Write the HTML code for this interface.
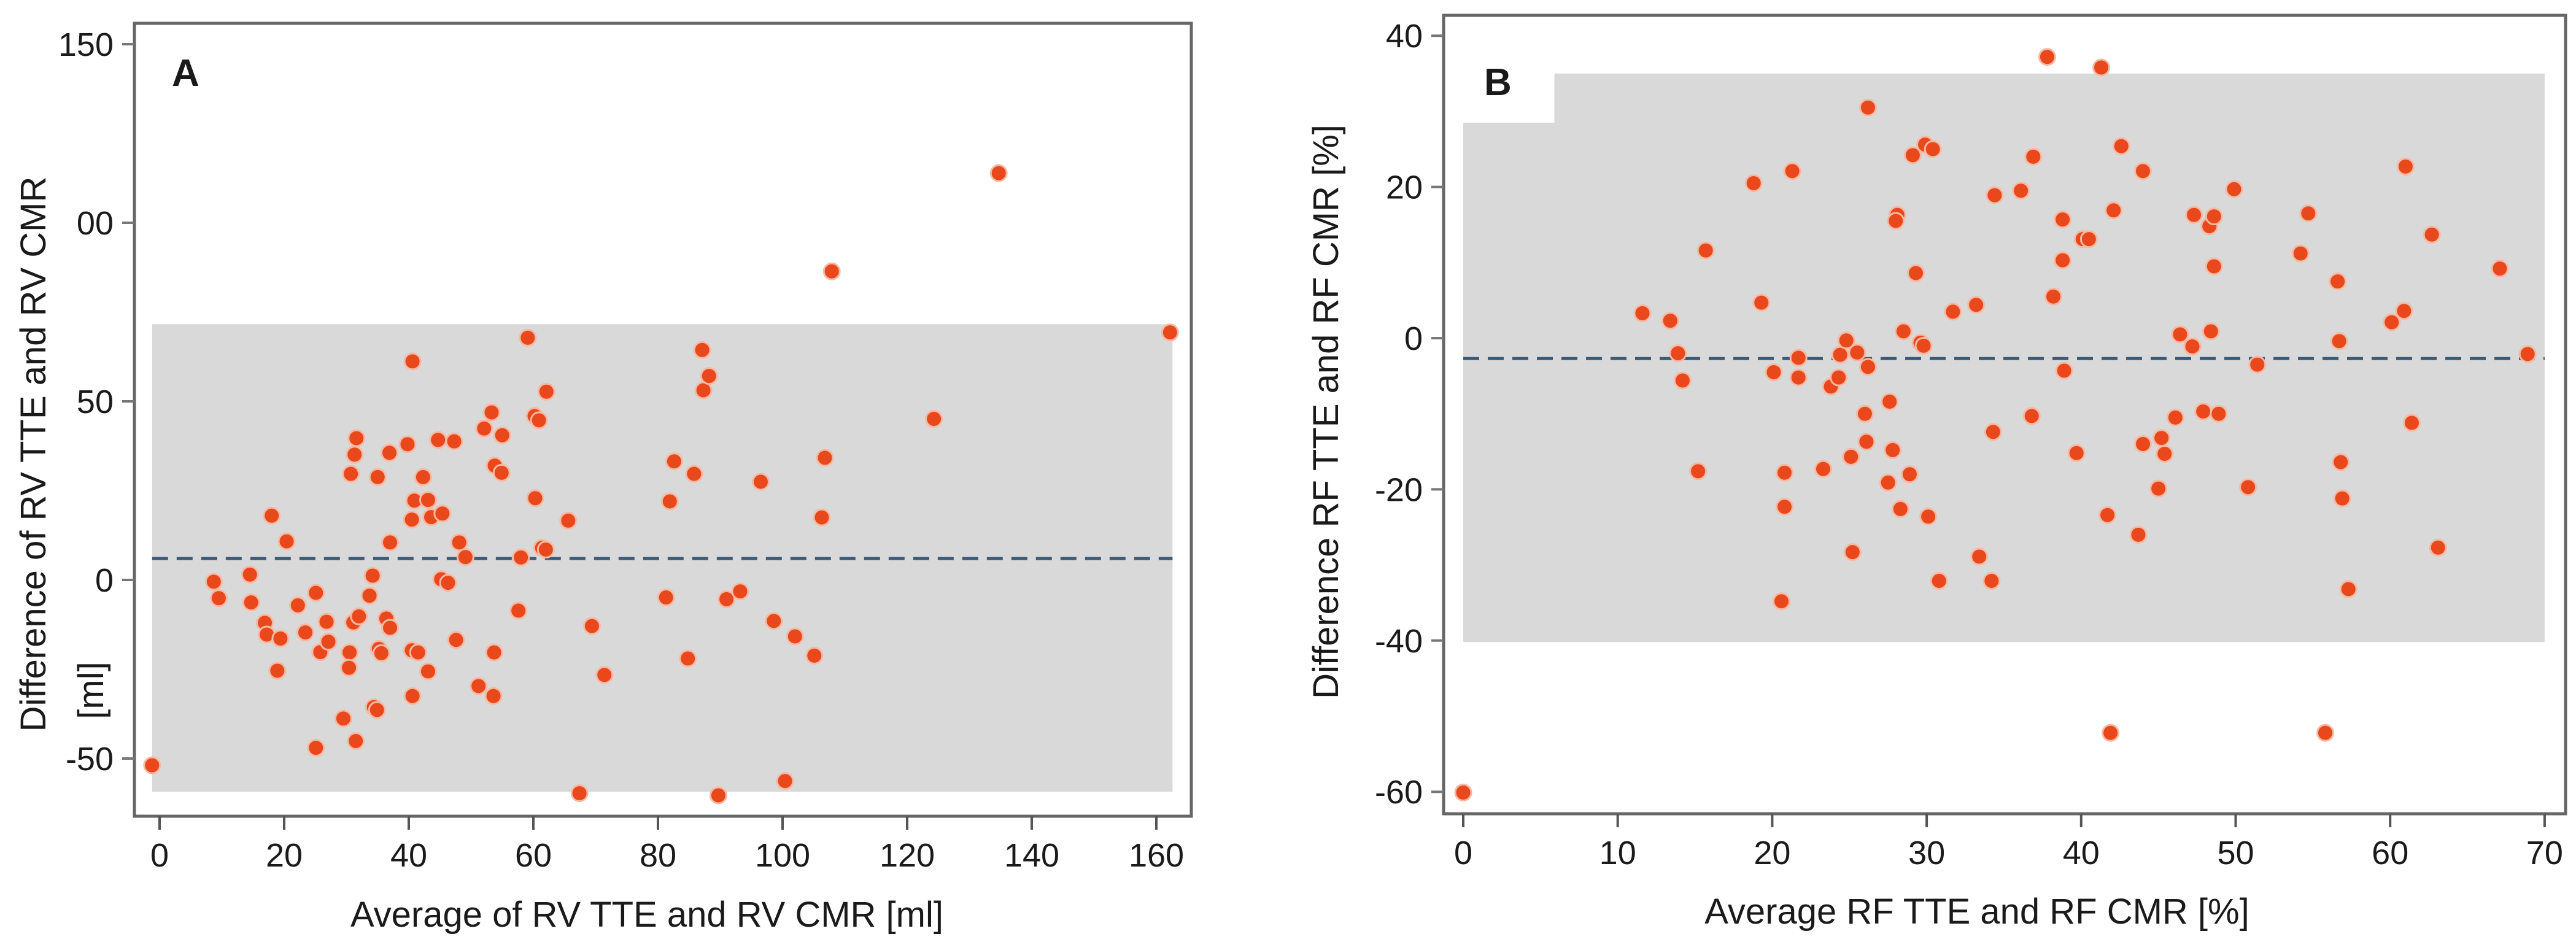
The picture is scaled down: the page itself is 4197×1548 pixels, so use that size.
<!DOCTYPE html>
<html><head><meta charset="utf-8">
<style>
html,body{margin:0;padding:0;background:#fff;}
svg{display:block;}
text{font-family:"Liberation Sans",sans-serif;fill:#1a1a1a;}
</style></head>
<body>
<svg id="chart" width="4197" height="1548" viewBox="0 0 4197 1548" xmlns="http://www.w3.org/2000/svg">
<g id="panelA"></g>
<g id="panelB"></g>
</svg>
<script>
// Panel A data (RV volume, ml)
const aX = [-1.2,8.7,9.5,14.5,14.7,16.9,17.2,18,19.4,18.9,20.4,22.2,23.4,25.1,25.8,25.1,26.8,27.1,29.5,30.5,30.4,30.7,31.3,31.6,31.1,31.5,32,33.7,34.2,34.4,34.9,35,35.2,35.6,36.4,37,36.9,37,39.8,40.5,40.9,40.6,40.5,40.6,41.5,42.3,43.1,43.1,43.6,44.7,45.4,45.2,46.3,47.3,47.6,48.1,49.1,51.2,52.1,53.3,53.8,55,54.9,53.7,53.6,57.6,58,59.1,60.2,60.9,60.3,61.4,62,62.1,65.6,67.4,69.4,71.4,81.3,81.9,82.6,84.8,85.8,87.1,87.3,88.2,89.7,91,93.2,96.5,98.6,100.4,102,105.1,106.3,106.8,107.9,124.3,134.7,162.2];
const aY = [-51.9,-0.5,-5.1,1.5,-6.3,-12,-15.3,18,-16.4,-25.4,10.8,-7.1,-14.7,-3.6,-20.2,-47,-11.7,-17.3,-38.8,-20.3,-24.6,29.7,35.1,39.7,-11.9,-45.1,-10.2,-4.4,1.2,-35.6,-36.4,28.8,-19.3,-20.5,-10.8,-13.4,35.6,10.5,38,16.9,22.2,61.2,-19.7,-32.5,-20.3,28.8,-25.6,22.4,17.6,39.2,18.6,0.2,-0.8,38.8,-16.8,10.5,6.4,-29.7,42.4,46.9,32,40.5,30,-20.3,-32.5,-8.6,6.3,67.8,45.9,44.7,22.9,9,8.5,52.7,16.6,-59.7,-12.9,-26.6,-4.9,22,33.2,-22,29.7,64.4,53.1,57.1,-60.3,-5.4,-3.2,27.5,-11.5,-56.3,-15.8,-21.2,17.5,34.2,86.4,45.1,113.9,69.3];
const aXTicks = [0,20,40,60,80,100,120,140,160];
const aXTickLabels = ["0","20","40","60","80","100","120","140","160"];
const aYTicks = [150,100,50,0,-50];
const aYTickLabels = ["150","00","50","0","-50"];
const aMean = 6;
const aLoA = [71.6,-59.3];
const aBandX = [-1.2,162.6];

// Panel B data (RF, %)
const bX = [0,11.6,13.4,13.9,14.2,15.2,15.7,18.8,19.3,20.1,20.6,20.8,20.8,21.3,21.7,21.7,23.3,23.8,24.3,24.4,24.8,25.1,25.2,25.5,26,26.1,26.2,26.2,27.5,27.6,27.8,28.1,28,28.3,28.5,28.9,29.1,29.3,29.6,29.8,29.9,30.4,30.1,30.8,31.7,33.2,33.4,34.2,34.3,34.4,36.1,36.8,36.9,37.8,38.2,38.8,38.8,38.9,39.7,40.1,40.5,41.3,41.7,41.9,42.1,42.6,43.7,44,44,45,45.2,45.4,46.1,46.4,47.2,47.3,47.9,48.3,48.4,48.6,48.6,48.9,49.9,50.8,51.4,54.2,54.7,55.8,56.6,56.7,56.8,56.9,57.3,60.1,60.9,61,61.4,62.7,63.1,67.1,68.9];
const bY = [-60.1,3.3,2.3,-2,-5.6,-17.6,11.6,20.5,4.7,-4.5,-34.8,-17.8,-22.3,22.1,-2.6,-5.2,-17.3,-6.4,-5.2,-2.2,-0.3,-15.7,-28.3,-1.9,-10,-13.7,30.5,-3.8,-19.1,-8.4,-14.8,16.3,15.5,-22.6,0.9,-18,24.2,8.6,-0.6,-1,25.6,25,-23.6,-32.1,3.5,4.4,-28.9,-32.1,-12.4,18.9,19.5,-10.3,24,37.2,5.5,15.7,10.3,-4.3,-15.2,13.1,13.1,35.8,-23.4,-52.2,16.9,25.4,-26,22.1,-14,-19.9,-13.2,-15.3,-10.5,0.5,-1.1,16.3,-9.7,14.8,0.9,16.1,9.5,-10,19.7,-19.7,-3.5,11.2,16.5,-52.2,7.5,-0.4,-16.4,-21.2,-33.2,2.1,3.6,22.7,-11.2,13.7,-27.7,9.2,-2.1];
const bXTicks = [0,10,20,30,40,50,60,70];
const bXTickLabels = ["0","10","20","30","40","50","60","70"];
const bYTicks = [40,20,0,-20,-40,-60];
const bYTickLabels = ["40","20","0","-20","-40","-60"];
const bMean = -2.7;
const bLoA = [35,-40.2];
const bBandX = [0,70];
const bNotch = [5.9,28.5];

const NS = "http://www.w3.org/2000/svg";
function mk(parent, tag, attrs, txt){
  const e = document.createElementNS(NS, tag);
  for (const k in attrs) e.setAttribute(k, attrs[k]);
  if (txt !== undefined) e.textContent = txt;
  parent.appendChild(e);
  return e;
}

function drawPanel(g, cfg){
  const sx = v => cfg.x0 + v*cfg.kx;
  const sy = v => cfg.y0 - v*cfg.ky;
  // band
  const band = mk(g,'rect',{x:sx(cfg.bandX[0]),y:sy(cfg.loa[0]),width:sx(cfg.bandX[1])-sx(cfg.bandX[0]),height:sy(cfg.loa[1])-sy(cfg.loa[0]),fill:'#d9d9d9'});
  
  
  if (cfg.notch){
    const n = mk(g,'rect',{x:sx(cfg.bandX[0]),y:sy(cfg.loa[0])-1,width:sx(cfg.notch[0])-sx(cfg.bandX[0]),height:sy(cfg.notch[1])-sy(cfg.loa[0])+1,fill:'#fff'});
    
    
  }
  // mean line
  const m = mk(g,'line',{x1:sx(cfg.bandX[0]),x2:sx(cfg.bandX[1]),y1:sy(cfg.mean),y2:sy(cfg.mean),stroke:'#3b5a78','stroke-width':5,'stroke-dasharray':'26 14'});
  
  
  // box
  const b = mk(g,'rect',{x:cfg.box[0],y:cfg.box[1],width:cfg.box[2]-cfg.box[0],height:cfg.box[3]-cfg.box[1],fill:'none',stroke:'#666','stroke-width':5});
  
  
  // points
  for (let i=0;i<cfg.xs.length;i++){
    const c = mk(g,'circle',{cx:sx(cfg.xs[i]),cy:sy(cfg.ys[i]),r:13,fill:'#e8481c',stroke:'#f7b9a3','stroke-width':3});
    
    
  }
  // x ticks
  cfg.xt.forEach((v,i)=>{
    const t = mk(g,'line',{x1:sx(v),x2:sx(v),y1:cfg.box[3],y2:cfg.box[3]+22,stroke:'#555','stroke-width':4});
    
    
    const l = mk(g,'text',{x:sx(v),y:cfg.box[3]+82,'font-size':54,'text-anchor':'middle'},cfg.xtl[i]);
    
    
  });
  cfg.yt.forEach((v,i)=>{
    const t = mk(g,'line',{x1:cfg.box[0]-20,x2:cfg.box[0],y1:sy(v),y2:sy(v),stroke:'#777','stroke-width':4});
    
    
    const l = mk(g,'text',{x:cfg.box[0]-34,y:sy(v)+19,'font-size':54,'text-anchor':'end'},cfg.ytl[i]);
    
    
  });
  // panel letter
  const L = mk(g,'text',{x:cfg.letter[0],y:cfg.letter[1],'font-size':62,'font-weight':'bold'},cfg.letter[2]);
  
  
  // x title
  const xt = mk(g,'text',{x:cfg.xtitle[0],y:cfg.xtitle[1],'font-size':58,'text-anchor':'middle'},cfg.xtitle[2]);
  
  
  cfg.ytitle.forEach(yt=>{
    const e = mk(g,'text',{x:0,y:0,'font-size':58,'text-anchor':'middle',transform:`translate(${yt[0]},${yt[1]}) rotate(-90)`},yt[2]);
    
    
  });
}

drawPanel(document.getElementById('panelA'),{
  x0:260, kx:10.15, y0:945, ky:5.82,
  box:[219,38,1941,1330],
  xs:aX, ys:aY, xt:aXTicks, xtl:aXTickLabels, yt:aYTicks, ytl:aYTickLabels,
  mean:aMean, loa:aLoA, bandX:aBandX,
  letter:[280,140,'A'],
  xtitle:[1054,1510,'Average of RV TTE and RV CMR [ml]'],
  ytitle:[[74,740,'Difference of RV TTE and RV CMR'],[168,1125,'[ml]']]
});
drawPanel(document.getElementById('panelB'),{
  x0:2384, kx:25.17, y0:551, ky:12.32,
  box:[2352,25,4180,1326],
  xs:bX, ys:bY, xt:bXTicks, xtl:bXTickLabels, yt:bYTicks, ytl:bYTickLabels,
  mean:bMean, loa:bLoA, bandX:bBandX, notch:bNotch,
  letter:[2418,155,'B'],
  xtitle:[3221,1505,'Average RF TTE and RF CMR [%]'],
  ytitle:[[2180,671,'Difference RF TTE and RF CMR [%]']]
});
</script>
</body></html>
